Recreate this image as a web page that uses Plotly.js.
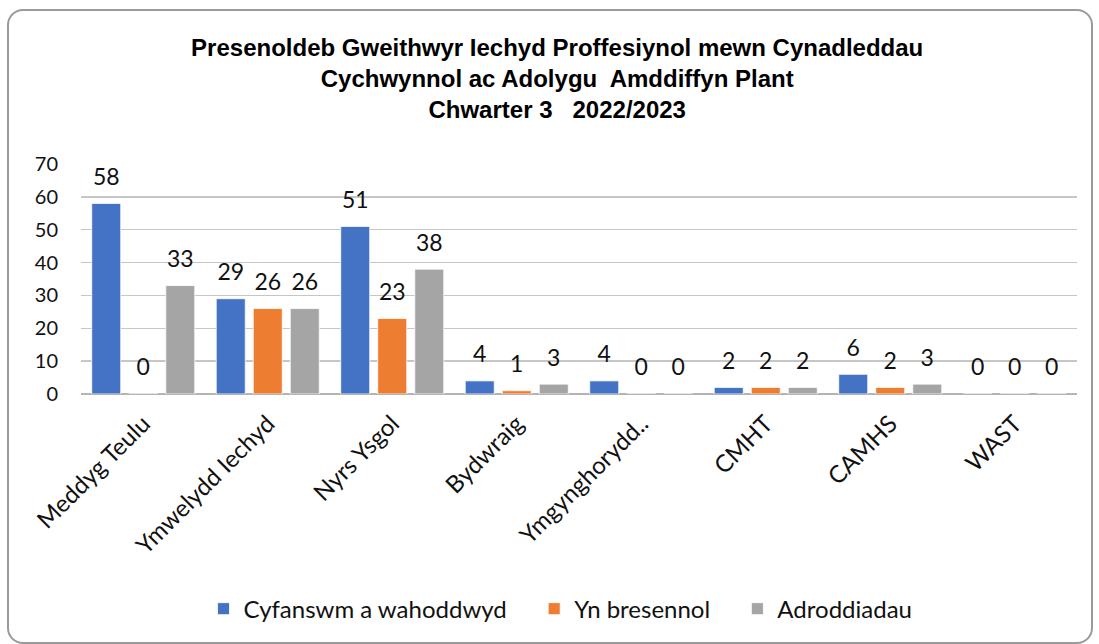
<!DOCTYPE html>
<html>
<head>
<meta charset="utf-8">
<script src="https://cdn.plot.ly/plotly-3.0.1.min.js"></script>
<style>
  html, body { margin: 0; padding: 0; background: #ffffff; }
  #frame { position: absolute; left: 7px; top: 9px; width: 1082px; height: 631px;
           border: 2px solid #9a9a9a; border-radius: 16px; background: #ffffff; }
  #chart { position: absolute; left: 0; top: 0; width: 1099px; height: 644px; }
</style>
</head>
<body>
<div id="frame"></div>
<div id="chart"></div>
<script>
const categories = ["Meddyg Teulu", "Ymwelydd Iechyd", "Nyrs Ysgol", "Bydwraig", "Ymgynghorydd..", "CMHT", "CAMHS", "WAST"];
const seriesNames = ["Cyfanswm a wahoddwyd", "Yn bresennol", "Adroddiadau"];
const invited = [58, 29, 51, 4, 4, 2, 6, 0];
const attended = [0, 26, 23, 1, 0, 2, 2, 0];
const reports = [33, 26, 38, 3, 0, 2, 3, 0];
const colors = ["#4472C4", "#ED7D31", "#A5A5A5"];
const yTicks = [0, 10, 20, 30, 40, 50, 60, 70];

const labelFont = "Lato, 'Open Sans', sans-serif";
const seriesValues = [invited, attended, reports];
const legendIds = ["legend", "legend2", "legend3"];
const legendX = [0.123, 0.455, 0.659];

const traces = [];
seriesValues.forEach((vals, i) => {
  traces.push({
    type: "bar",
    name: seriesNames[i],
    x: categories,
    y: vals,
    marker: { color: colors[i], line: { color: "#ffffff", width: 0.8 } },
    offsetgroup: "g" + i,
    legend: legendIds[i],
    hoverinfo: "skip"
  });
});
seriesValues.forEach((vals, i) => {
  traces.push({
    type: "scatter",
    mode: "markers+text",
    x: categories,
    y: vals,
    text: vals.map(String),
    textposition: "top center",
    textfont: { family: labelFont, size: 23, color: "#111111" },
    marker: { size: 19, opacity: 0, color: colors[i] },
    offsetgroup: "g" + i,
    showlegend: false,
    hoverinfo: "skip",
    cliponaxis: false
  });
});

const legendBase = {
  orientation: "h",
  xanchor: "left",
  y: -0.935,
  yanchor: "middle",
  font: { family: labelFont, size: 24, color: "#111111" },
  itemwidth: 30,
  bgcolor: "rgba(0,0,0,0)"
};

const layout = {
  width: 1099,
  height: 644,
  paper_bgcolor: "rgba(0,0,0,0)",
  plot_bgcolor: "rgba(0,0,0,0)",
  margin: { l: 81, r: 22, t: 164, b: 250 },
  barmode: "group",
  bargap: 0.108,
  bargroupgap: 0.216,
  scattermode: "group",
  scattergap: 0.108,
  title: {
    text: "Presenoldeb Gweithwyr Iechyd Proffesiynol mewn Cynadleddau<br>Cychwynnol ac Adolygu  Amddiffyn Plant<br>Chwarter 3   2022/2023",
    font: { family: "'Liberation Sans', Arial, sans-serif", size: 24, color: "#000000", weight: "bold" },
    x: 0.507,
    xanchor: "center",
    xref: "container",
    y: 1 - 56 / 644,
    yanchor: "top",
    yref: "container"
  },
  xaxis: {
    type: "category",
    tickangle: -45,
    tickfont: { family: labelFont, size: 24, color: "#111111" },
    showgrid: false,
    showline: false,
    ticks: "",
    ticklabelstandoff: 10,
    fixedrange: true
  },
  yaxis: {
    range: [0, 70],
    tickvals: yTicks,
    ticktext: yTicks.map(String),
    tickfont: { family: labelFont, size: 20, color: "#111111" },
    showgrid: true,
    gridcolor: "#c6c6c6",
    gridwidth: 1.3,
    zeroline: true,
    zerolinecolor: "#b4b4b4",
    zerolinewidth: 1.6,
    showline: false,
    ticks: "",
    ticklabelstandoff: 22,
    fixedrange: true
  },
  showlegend: true,
  legend: Object.assign({}, legendBase, { x: legendX[0] }),
  legend2: Object.assign({}, legendBase, { x: legendX[1] }),
  legend3: Object.assign({}, legendBase, { x: legendX[2] })
};

Plotly.newPlot("chart", traces, layout, { displayModeBar: false, staticPlot: true });
</script>
</body>
</html>
